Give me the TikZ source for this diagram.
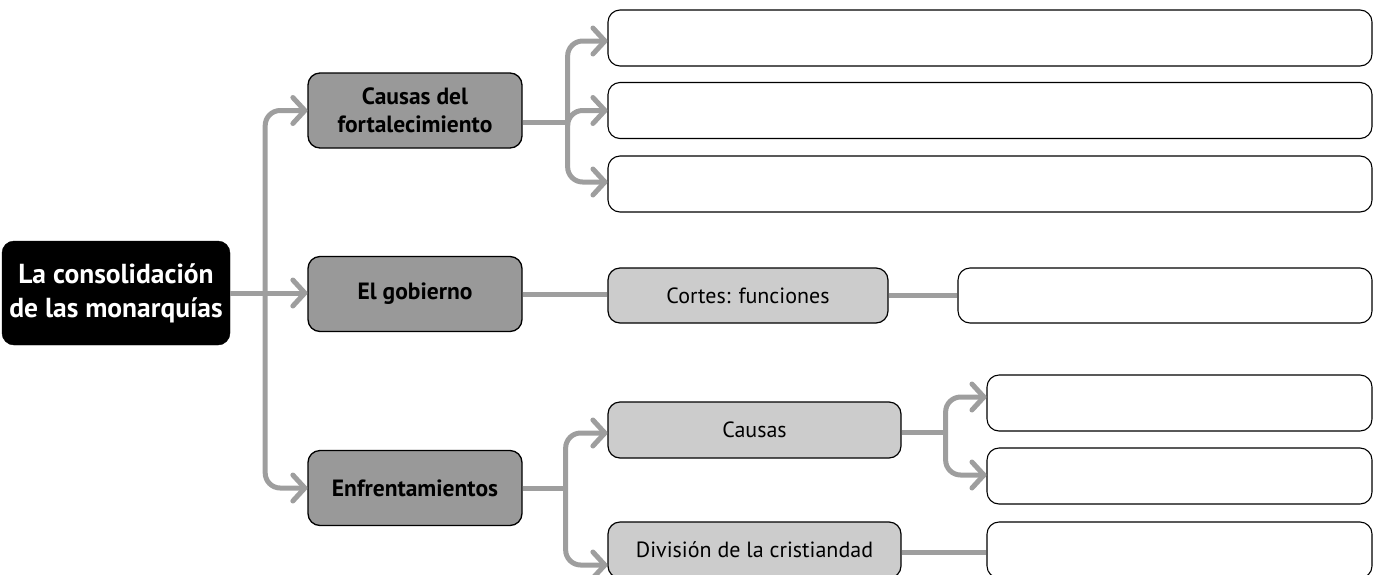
\documentclass[tikz,border=0pt]{standalone}
\usepackage{fontspec}
\setmainfont{PT Sans}
\usetikzlibrary{arrows.meta,calc}
\definecolor{conncol}{HTML}{9E9E9E}
\definecolor{darkbox}{HTML}{999999}
\definecolor{lightbox}{HTML}{CCCCCC}
\begin{document}
\begin{tikzpicture}[x=1pt,y=-1pt,
  basebox/.style={draw=black, rounded corners=12pt, inner sep=0pt, align=center},
  rootbox/.style={basebox, fill=black, text=white, minimum width=228pt, minimum height=104pt,
    font=\fontsize{27.5}{34}\selectfont\bfseries},
  midbox/.style={basebox, fill=darkbox, line width=1.3pt, minimum width=214pt, minimum height=75pt,
    font=\fontsize{23.5}{28}\selectfont\bfseries},
  lightnode/.style={basebox, fill=lightbox, line width=1.2pt, minimum height=56pt,
    font=\fontsize{22}{26}\selectfont},
  blank/.style={basebox, fill=white, line width=1.1pt, minimum height=56pt},
  conn/.style={draw=conncol, line width=5pt, rounded corners=15pt},
  arr/.style={conn, -{Straight Barb[length=12pt,width=26pt,line cap=round,line join=round]}}
]
\path[use as bounding box, clip] (0,0) rectangle (1381,574);

% nodes
\node[rootbox] (root) at (116,293) {La consolidación\\de las monarquías};
\node[midbox] (causasf) at (415,110.5) {Causas del\\fortalecimiento};
\node[midbox] (gob) at (415,294) {El gobierno};
\node[midbox] (enf) at (415,488) {Enfrentamientos};

\node[blank, minimum width=764pt] (w1) at (990,38) {};
\node[blank, minimum width=764pt] (w2) at (990,110.5) {};
\node[blank, minimum width=764pt] (w3) at (990,184) {};

\node[lightnode, minimum width=280pt, minimum height=55pt] (cortes) at (748,295.5) {Cortes: funciones};
\node[blank, minimum width=414pt, minimum height=55pt] (cr) at (1165,295.5) {};

\node[lightnode, minimum width=293pt] (causas) at (754.5,430) {Causas};
\node[lightnode, minimum width=293pt] (div) at (754.5,550) {División de la cristiandad};

\node[blank, minimum width=385pt] (r1) at (1179.5,403) {};
\node[blank, minimum width=385pt] (r2) at (1179.5,476) {};
\node[blank, minimum width=385pt] (r3) at (1179.5,550) {};

% connectors from root
\draw[arr] (root.east) -- (root.east -| gob.west);
\coordinate (j1) at ($(root.east)+(35,0)$);
\draw[arr] (j1) |- (causasf.west);
\draw[arr] (j1) |- (enf.west);

% causas del fortalecimiento
\coordinate (cfo) at ($(causasf.east)+(0,12)$);
\coordinate (j2) at ($(cfo)+(45,0)$);
\draw[conn] (cfo) -- (j2);
\draw[arr] (j2) |- ($(w1.west)+(0,3)$);
\draw[arr] (j2) |- (w2.west);
\draw[arr] (j2) |- ($(w3.west)+(0,-2)$);

% gobierno
\draw[conn] (gob.east) -- (gob.east -| cortes.west);
\draw[conn] (cortes.east) -- (cr.west);

% enfrentamientos
\coordinate (j3) at ($(enf.east)+(43,0)$);
\draw[conn] (enf.east) -- (j3);
\draw[arr] (j3) |- ($(causas.west)+(0,3)$);
\draw[arr] (j3) |- ($(div.west)+(0,15)$);

% causas
\coordinate (co) at ($(causas.east)+(0,2)$);
\coordinate (j4) at ($(co)+(44,0)$);
\draw[conn] (co) -- (j4);
\draw[arr] (j4) |- ($(r1.west)+(0,-6)$);
\draw[arr] (j4) |- ($(r2.west)+(0,-1)$);

% division
\draw[conn] ($(div.east)+(0,2)$) -- ($(r3.west)+(0,2)$);
\end{tikzpicture}
\end{document}
